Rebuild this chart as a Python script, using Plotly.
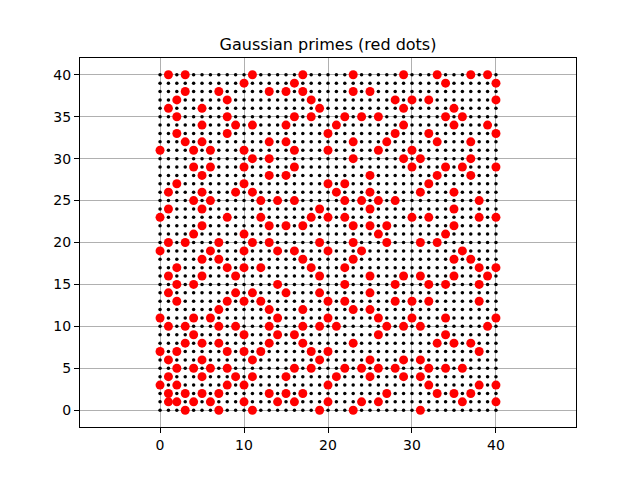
import plotly.graph_objects as go

# Integer lattice coordinates (black dots at every grid point)
lattice_values = [0, 1, 2, 3, 4, 5, 6, 7, 8, 9, 10, 11, 12, 13, 14, 15, 16, 17, 18, 19, 20,
                  21, 22, 23, 24, 25, 26, 27, 28, 29, 30, 31, 32, 33, 34, 35, 36, 37, 38, 39, 40]

# Gaussian primes, column by column (x value -> y values)
col_0 = [3, 7, 11, 19, 23, 31]
col_1 = [1, 2, 4, 6, 10, 14, 16, 20, 24, 26, 36, 40]
col_2 = [1, 3, 5, 7, 13, 15, 17, 27, 33, 35, 37]
col_3 = [0, 2, 8, 10, 20, 32, 38, 40]
col_4 = [1, 5, 9, 11, 15, 21, 25, 29, 31]
col_5 = [2, 4, 6, 8, 16, 18, 22, 24, 26, 28, 32, 34, 36]
col_6 = [1, 5, 11, 19, 25, 29, 31]
col_7 = [0, 2, 8, 10, 12, 18, 20, 38]
col_8 = [3, 5, 7, 13, 17, 23, 33, 35, 37]
col_9 = [4, 10, 14, 16, 26, 34]
col_10 = [1, 3, 7, 9, 13, 17, 19, 21, 27, 29, 31, 39]
col_11 = [0, 4, 6, 14, 20, 26, 30, 34, 40]
col_12 = [7, 13, 17, 23, 25]
col_13 = [2, 8, 10, 12, 20, 22, 28, 30, 32, 38]
col_14 = [1, 9, 11, 15, 19, 25]
col_15 = [2, 4, 14, 22, 28, 32, 34, 38]
col_16 = [1, 5, 9, 19, 25, 29, 31, 35, 39]
col_17 = [2, 8, 10, 12, 18, 22, 38, 40]
col_18 = [5, 7, 17, 23, 35, 37]
col_19 = [0, 6, 10, 14, 16, 20, 24, 36]
col_20 = [1, 3, 7, 11, 13, 19, 23, 27, 31, 33]
col_21 = [4, 10, 26, 34]
col_22 = [5, 13, 15, 17, 23, 25, 27, 35]
col_23 = [0, 8, 12, 18, 20, 22, 30, 32, 38, 40]
col_24 = [1, 5, 19, 25, 35]
col_25 = [4, 6, 12, 14, 16, 22, 24, 26, 28, 38]
col_26 = [1, 5, 9, 11, 21, 25, 31, 35]
col_27 = [2, 10, 20, 22, 32]
col_28 = [5, 13, 15, 25, 33, 37]
col_29 = [4, 6, 10, 16, 30, 34, 36, 40]
col_30 = [11, 13, 23, 29, 31, 37]
col_31 = [0, 4, 6, 10, 16, 20, 26, 30]
col_32 = [3, 5, 13, 15, 23, 27, 33, 37]
col_33 = [2, 8, 20, 28, 32, 40]
col_34 = [5, 9, 11, 15, 21, 29, 35, 39]
col_35 = [2, 8, 16, 18, 22, 24, 26, 34, 36]
col_36 = [1, 5, 19, 29, 35]
col_37 = [2, 8, 18, 28, 30, 32, 40]
col_38 = [3, 7, 13, 15, 17, 23, 25]
col_39 = [10, 16, 34, 40]
col_40 = [1, 3, 11, 17, 23, 29, 33, 37, 39]

prime_columns = [col_0, col_1, col_2, col_3, col_4, col_5, col_6, col_7, col_8, col_9,
                 col_10, col_11, col_12, col_13, col_14, col_15, col_16, col_17, col_18, col_19,
                 col_20, col_21, col_22, col_23, col_24, col_25, col_26, col_27, col_28, col_29,
                 col_30, col_31, col_32, col_33, col_34, col_35, col_36, col_37, col_38, col_39,
                 col_40]

x_ticks = [0, 10, 20, 30, 40]
y_ticks = [0, 5, 10, 15, 20, 25, 30, 35, 40]
title_text = "Gaussian primes (red dots)"

grid_x = [x for x in lattice_values for _ in lattice_values]
grid_y = [y for _ in lattice_values for y in lattice_values]

prime_x = []
prime_y = []
for xv, ys in zip(lattice_values, prime_columns):
    for yv in ys:
        prime_x.append(xv)
        prime_y.append(yv)

fig = go.Figure()
fig.add_trace(go.Scatter(x=grid_x, y=grid_y, mode="markers",
                         marker=dict(color="black", size=3.5, line=dict(width=0)),
                         hoverinfo="skip", showlegend=False))
fig.add_trace(go.Scatter(x=prime_x, y=prime_y, mode="markers",
                         marker=dict(color="red", size=9, line=dict(width=0)),
                         showlegend=False))

font = "DejaVu Sans, Liberation Sans, sans-serif"
axis_common = dict(showgrid=True, gridcolor="#b0b0b0", gridwidth=1, zeroline=False,
                   showline=True, linecolor="black", linewidth=1, mirror=True,
                   ticks="outside", ticklen=5, tickcolor="black", tickwidth=1,
                   automargin=False,
                   tickfont=dict(family=font, size=14, color="black"))

# The page body adds an 8px offset, so margins are shifted by 8px
fig.update_layout(
    width=640, height=480,
    margin=dict(l=72, r=72, t=50, b=61),
    paper_bgcolor="white", plot_bgcolor="white",
    title=dict(text=title_text, x=320 / 640, xanchor="center", y=1 - 36 / 480, yanchor="middle",
               font=dict(family=font, size=16, color="black")),
    xaxis=dict(range=[-9.53, 49.53], tickvals=x_ticks, **axis_common),
    yaxis=dict(range=[-2, 42], tickvals=y_ticks, **axis_common),
)

fig.write_html("out.html")
